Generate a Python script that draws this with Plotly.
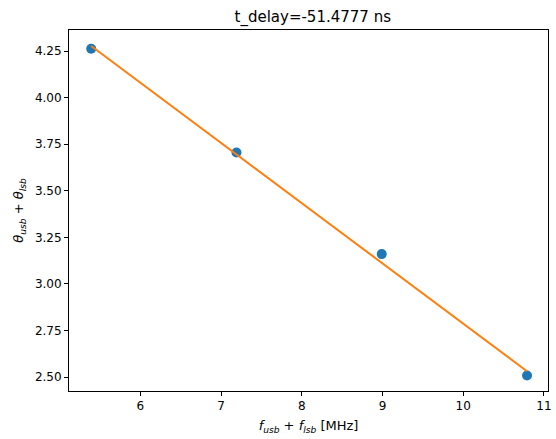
import plotly.graph_objects as go

freq_sum = [5.39, 7.19, 8.99, 10.79]
phase_sum = [4.262, 3.705, 3.160, 2.508]
fit_x = [5.39, 7.19, 8.99, 10.79]
fit_y = [4.277, 3.695, 3.113, 2.531]
title_text = "t_delay=-51.4777 ns"

fig = go.Figure()
fig.add_trace(go.Scatter(x=freq_sum, y=phase_sum, mode="markers",
                         marker=dict(color="#1f77b4", size=10, line=dict(width=0)),
                         showlegend=False))
fig.add_trace(go.Scatter(x=fit_x, y=fit_y, mode="lines",
                         line=dict(color="#ff7f0e", width=2), showlegend=False))

axis_common = dict(showgrid=False, zeroline=False, showline=True, linecolor="black",
                   linewidth=1, mirror=True, ticks="outside", ticklen=4, tickwidth=1,
                   tickcolor="black", tickfont=dict(family="DejaVu Sans", size=12, color="black"))

fig.update_layout(
    width=556, height=439,
    margin=dict(l=69, r=4, t=30, b=48),
    plot_bgcolor="white", paper_bgcolor="white",
    title=dict(text=title_text, x=0.5625, xanchor="center", y=0.962, yanchor="middle",
               font=dict(family="DejaVu Sans", size=15, color="black")),
    xaxis=dict(range=[5.115, 11.05], tickvals=[6, 7, 8, 9, 10, 11],
               title=dict(text="<i>f</i><sub><i>usb</i></sub> + <i>f</i><sub><i>lsb</i></sub> [MHz]",
                          font=dict(family="DejaVu Sans", size=13, color="black"), standoff=8),
               **axis_common),
    yaxis=dict(range=[2.425, 4.363], tickvals=[2.5, 2.75, 3.0, 3.25, 3.5, 3.75, 4.0, 4.25],
               ticktext=["2.50", "2.75", "3.00", "3.25", "3.50", "3.75", "4.00", "4.25"],
               title=dict(text="<i>θ</i><sub><i>usb</i></sub> + <i>θ</i><sub><i>lsb</i></sub>",
                          font=dict(family="DejaVu Sans", size=13, color="black"), standoff=8),
               **axis_common),
)

fig.write_html("out.html")
